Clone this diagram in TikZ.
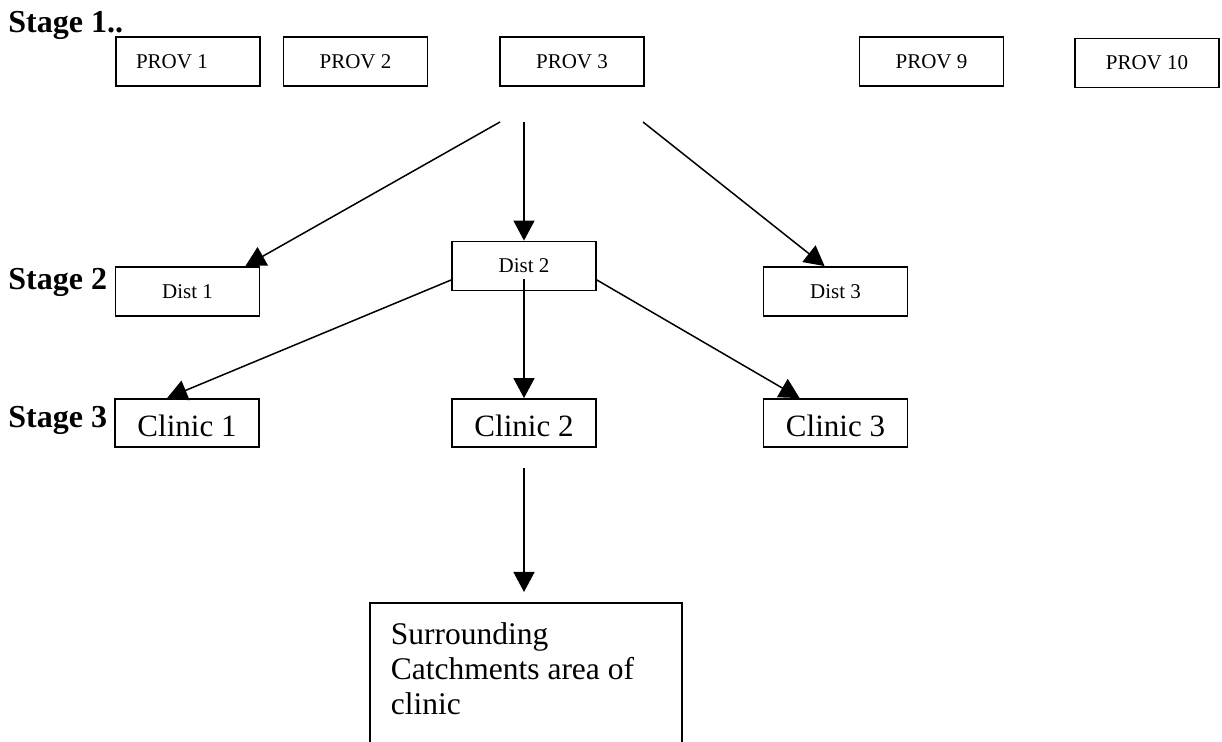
\documentclass[tikz,border=0pt]{standalone}
\usepackage{fontspec}
\setmainfont{Liberation Serif}
\usepackage{tikz}
\usetikzlibrary{arrows.meta}

\begin{document}
\begin{tikzpicture}[x=0.5pt, y=-0.5pt,
    box/.style = {draw, line width=0.9pt, minimum width=72pt, minimum height=24.5pt, inner sep=0pt, font=\fontsize{10.5}{12}\selectfont},
    clinicbox/.style = {box, minimum height=24pt, text height=14pt, text depth=0pt, font=\fontsize{15.5}{18}\selectfont},
    stagelabel/.style = {anchor=base west, inner sep=0pt, font=\fontsize{16}{19}\selectfont\bfseries},
    arr/.style = {-{Triangle[length=10pt, width=10.5pt]}, line width=0.75pt}]
    \useasboundingbox (0,0) rectangle (1222,742);

    \node (S1) at (8, 33) [stagelabel] {Stage 1..};
    \node (S2) at (8, 290) [stagelabel] {Stage 2};
    \node (S3) at (8, 428) [stagelabel] {Stage 3};

    \node (P1) at (188, 61.5) [box, text width=52pt, align=flush left, inner xsep=10pt] {PROV 1};
    \node (P2) at (355.5, 61.5) [box] {PROV 2};
    \node (P3) at (572, 61.5) [box] {PROV 3};
    \node (P9) at (931.5, 61.5) [box] {PROV 9};
    \node (P10) at (1147, 63) [box] {PROV 10};

    \node (D1) at (187.5, 291.5) [box] {Dist 1};
    \node (D2) at (524, 266) [box] {Dist 2};
    \node (D3) at (835.5, 291.5) [box] {Dist 3};

    \node (C1) at (187, 423) [clinicbox] {Clinic 1};
    \node (C2) at (524, 423) [clinicbox] {Clinic 2};
    \node (C3) at (835.5, 423) [clinicbox] {Clinic 3};

    \node (A) at (369, 602) [draw, line width=0.9pt, anchor=north west, text width=135pt, align=flush left, inner xsep=10.5pt, inner ysep=9.7pt, font=\fontsize{15.75}{17.5}\selectfont] {Surrounding\\ Catchments area of\\ clinic\rule[-30pt]{0pt}{1pt}};

    \coordinate (P3l) at (500, 122);
    \coordinate (P3m) at (524, 122);
    \coordinate (P3r) at (643, 122);

    \draw[arr] (P3l) -- ([xshift=-7.5pt]D1.north east);
    \draw[arr] (P3m) -- (D2.north);
    \draw[arr] (P3r) -- ([xshift=31pt]D3.north west);

    \draw[arr] ([yshift=-7pt]D2.west) -- ([xshift=26.5pt]C1.north west);
    \draw[arr] ([yshift=6pt]D2.south) -- (C2.north);
    \draw[arr] ([yshift=-7pt]D2.east) -- ([xshift=18.5pt]C3.north west);

    \draw[arr] ([yshift=-10pt]C2.south) -- ([yshift=5pt]A.north -| C2.south);
\end{tikzpicture}
\end{document}
